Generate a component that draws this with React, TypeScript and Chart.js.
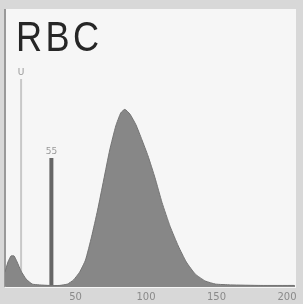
import React, { useEffect, useRef } from "react";
import { Chart, registerables } from "chart.js";

Chart.register(...registerables);

// RBC volume histogram (fL)
const volumeFl = [0, 2.1, 4.3, 6.4, 8.6, 11.4, 15, 19.3, 24.3, 31.4, 38.6, 44.3, 48.6, 52.9, 57.1, 61.4, 65.7, 70, 74.3, 78.6, 82.1, 85, 88.6, 92.9, 97.1, 101.4, 106.4, 111.4, 117.1, 122.9, 128.6, 135, 142.1, 149.3, 160, 181.4, 205];
const counts = [5, 8.7, 10.9, 10.9, 8.7, 5.4, 2.5, 0.7, 0.4, 0.2, 0.2, 0.7, 2.2, 5, 9.4, 17.8, 27.5, 38.4, 49.3, 58, 62.7, 64, 62.3, 58.4, 53, 47.2, 39.2, 30.2, 21.6, 14.5, 8.7, 4.3, 1.8, 0.7, 0.4, 0.2, 0.2];
const xTicks = [50, 100, 150, 200];
const title = "RBC";
// discriminator markers
const markerLabels = ["U", "55"];
const markerX = [11.4, 32.9];
const markerTop = [75, 46.4];

export default function App() {
  const ref = useRef<HTMLCanvasElement>(null);
  useEffect(() => {
    document.body.style.margin = "0";
    const bgPlugin = {
      id: "bg",
      beforeDraw(chart: any) {
        const { ctx, chartArea } = chart;
        ctx.save();
        ctx.fillStyle = "#d8d8d8";
        ctx.fillRect(0, 0, chart.width, chart.height);
        ctx.fillStyle = "#f6f6f6";
        ctx.fillRect(chartArea.left, chartArea.top - 1, chartArea.right - chartArea.left + 2, chartArea.bottom - chartArea.top + 3);
        ctx.restore();
      },
      afterDraw(chart: any) {
        const { ctx, chartArea, scales } = chart;
        ctx.save();
        ctx.fillStyle = "#262626";
        ctx.font = "43px 'Liberation Sans', sans-serif";
        ctx.textBaseline = "alphabetic";
        ctx.translate(chartArea.left + 11, 51);
        ctx.scale(0.84, 1);
        (ctx as any).letterSpacing = "4px";
        ctx.fillText(title, 0, 0);
        ctx.restore();
        ctx.save();
        ctx.font = "9px 'DejaVu Sans', sans-serif";
        ctx.fillStyle = "#999";
        ctx.textAlign = "center";
        markerLabels.forEach((t, i) => {
          const x = scales.x.getPixelForValue(markerX[i]);
          const y = scales.y.getPixelForValue(markerTop[i]);
          ctx.fillText(t, x, y - 4);
        });
        ctx.restore();
      },
    };
    const chart = new Chart(ref.current!, {
      type: "line",
      data: {
        datasets: [
          {
            data: volumeFl.map((v, i) => ({ x: v, y: counts[i] })),
            borderColor: "#747474",
            borderWidth: 1,
            backgroundColor: "#878787",
            fill: "origin",
            pointRadius: 0,
            tension: 0.15,
          },
          {
            data: [{ x: markerX[0], y: 0 }, { x: markerX[0], y: markerTop[0] }],
            borderColor: "#c8c8c8",
            borderWidth: 2,
            pointRadius: 0,
            fill: false,
          },
          {
            data: [{ x: markerX[1], y: 0 }, { x: markerX[1], y: markerTop[1] }],
            borderColor: "#666",
            borderWidth: 4,
            pointRadius: 0,
            fill: false,
          },
        ],
      },
      options: {
        animation: false,
        responsive: false,
        layout: { padding: { left: 5, right: 9, top: 10, bottom: -4 } },
        plugins: { legend: { display: false }, tooltip: { enabled: false } },
        scales: {
          x: {
            type: "linear",
            min: 0,
            max: 205,
            afterBuildTicks: (s: any) => {
              s.ticks = xTicks.map((v) => ({ value: v }));
            },
            grid: { display: false, drawTicks: false },
            border: { display: true, color: "#888", width: 2 },
            ticks: { color: "#8a8a8a", font: { size: 10, family: "'DejaVu Sans', sans-serif" }, padding: 5, maxRotation: 0 },
          },
          y: {
            min: 0,
            max: 100,
            grid: { display: false, drawTicks: false },
            border: { display: true, color: "#999", width: 2 },
            ticks: { display: false },
          },
        },
      },
      plugins: [bgPlugin],
    });
    return () => chart.destroy();
  }, []);
  return <canvas ref={ref} width={303} height={304} style={{ display: "block" }} />;
}
